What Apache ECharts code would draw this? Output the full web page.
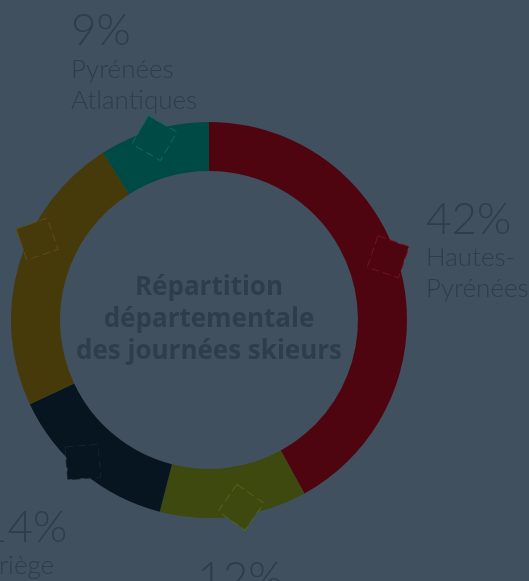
<!DOCTYPE html>
<html>
<head>
<meta charset="utf-8">
<style>
    html, body { margin: 0; padding: 0; background: #40505f; }
    #chart { width: 529px; height: 581px; }
</style>
<script src="https://cdn.jsdelivr.net/npm/echarts@6/dist/echarts.min.js"></script>
</head>
<body>
<div id="chart"></div>
<script>
// data, clockwise from 12 o'clock
const departments = ['Hautes-\nPyrénées', 'Haute-\nGaronne', 'Ariège', 'Pyrénées\nOrientales', 'Pyrénées\nAtlantiques'];
const shares = [42, 12, 14, 23, 9];

const colors = ['#4f0510', '#3d490e', '#06151f', '#463a0a', '#004a46'];
const edgeColors = ['#6e1424', '#55631a', '#142430', '#604d12', '#0c675a'];
// small squares: tilt (deg) and shift along the ring (deg)
const tilts = [-19, -35, 5, 19, -30];
const shifts = [-5, -2.5, 2, 9, -0.5];

const cx = 209, cy = 320;
const textColor = '#2e3d4b';
const total = shares.reduce((a, b) => a + b, 0);

function midAngle(i) {
    let before = 0;
    for (let k = 0; k < i; k++) before += shares[k];
    return (before + shares[i] / 2) / total * Math.PI * 2;
}

const myChart = echarts.init(document.getElementById('chart'), null, { renderer: 'canvas' });

const option = {
    backgroundColor: '#40505f',
    animation: false,
    graphic: {
        elements: [{
            type: 'text',
            x: cx,
            y: cy,
            silent: true,
            style: {
                text: 'Répartition\ndépartementale\ndes journées skieurs',
                font: 'bold 26px "Open Sans", sans-serif',
                lineHeight: 32,
                fill: textColor,
                textAlign: 'center',
                textVerticalAlign: 'middle'
            }
        }]
    },
    series: [
        {
            type: 'pie',
            center: [cx, cy],
            radius: [149, 198],
            startAngle: 90,
            clockwise: true,
            silent: true,
            avoidLabelOverlap: false,
            emphasis: { disabled: true },
            itemStyle: { borderWidth: 0 },
            labelLine: { show: false },
            label: {
                show: true,
                position: 'outside',
                formatter: (p) => `{p|${p.value}%}\n` + p.name.split('\n').map(s => `{n|${s}}`).join('\n'),
                rich: {
                    p: {
                        fontFamily: 'Lato',
                        fontWeight: 300,
                        fontSize: 44,
                        lineHeight: 45,
                        color: textColor,
                        align: 'left'
                    },
                    n: {
                        fontFamily: 'Lato',
                        fontWeight: 300,
                        fontSize: 26,
                        lineHeight: 31,
                        color: textColor,
                        align: 'left'
                    }
                }
            },
            labelLayout: (params) => {
                const a = midAngle(params.dataIndex);
                const dx = Math.sin(a), dy = -Math.cos(a);
                const r = 280 + 12 * dy;
                return {
                    x: cx + r * dx,
                    y: cy + r * dy,
                    align: 'center',
                    verticalAlign: 'middle',
                    hideOverlap: false
                };
            },
            data: shares.map((v, i) => ({
                value: v,
                name: departments[i],
                itemStyle: { color: colors[i] }
            }))
        },
        {
            // small tilted squares sitting on the outer edge of each slice
            type: 'pie',
            center: [cx, cy],
            radius: [180, 200],
            startAngle: 90,
            clockwise: true,
            silent: true,
            z: 3,
            emphasis: { disabled: true },
            itemStyle: { color: 'transparent', borderWidth: 0 },
            labelLine: { show: false },
            label: {
                show: true,
                position: 'inside',
                formatter: ' ',
                width: 32,
                height: 32,
                padding: 0,
                borderWidth: 1,
                borderType: 'dashed'
            },
            labelLayout: (params) => {
                const i = params.dataIndex;
                const a = midAngle(i) + shifts[i] * Math.PI / 180;
                return {
                    x: cx + 190 * Math.sin(a),
                    y: cy - 190 * Math.cos(a),
                    align: 'center',
                    verticalAlign: 'middle',
                    rotate: tilts[i],
                    hideOverlap: false
                };
            },
            data: shares.map((v, i) => ({
                value: v,
                name: departments[i],
                label: {
                    backgroundColor: colors[i],
                    borderColor: edgeColors[i]
                }
            }))
        }
    ]
};

myChart.setOption(option);
</script>
</body>
</html>
